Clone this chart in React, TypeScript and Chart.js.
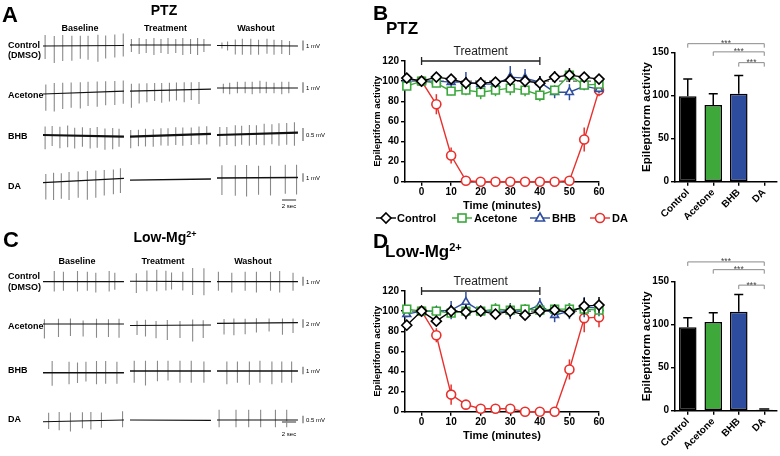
import React, { useEffect, useRef } from "react";
import { Chart, registerables } from "chart.js";
Chart.register(...registerables);

const FONT = '"Liberation Sans", Arial, Helvetica, sans-serif';

// ---------------- Time-course data (panels B and D) ----------------
const timePoints = [-5, 0, 5, 10, 15, 20, 25, 30, 35, 40, 45, 50, 55, 60];
const timeTicks = [0, 10, 20, 30, 40, 50, 60];
const activityTicks = [0, 20, 40, 60, 80, 100, 120];
const treatmentWindow = [0, 40];
const referenceLevel = 100;

const seriesLabels = ["Control", "Acetone", "BHB", "DA"];
const seriesColors = ["#000000", "#3aa83a", "#2f4ea0", "#e8302c"];
const seriesMarkers = ["rectRot", "rect", "triangle", "circle"];

const ptzControl = [103, 100, 104, 102, 98, 98, 99, 101, 100, 98, 104, 106, 104, 102];
const ptzControlErr = [3, 2, 4, 4, 6, 6, 5, 6, 6, 7, 6, 7, 5, 3];
const ptzAcetone = [95, 100, 98, 90, 91, 89, 91, 93, 91, 86, 91, 106, 96, 97];
const ptzAcetoneErr = [3, 2, 4, 4, 5, 7, 6, 7, 6, 6, 5, 4, 4, 4];
const ptzBhb = [102, 100, 100, 99, 99, 97, 97, 104, 103, 99, 89, 89, 95, 92];
const ptzBhbErr = [3, 2, 3, 5, 10, 5, 5, 11, 9, 6, 6, 8, 4, 4];
const ptzDa = [null, 100, 77, 26, 1, 0, 0, 0, 0, 0, 0, 1, 42, 91];
const ptzDaErr = [0, 2, 10, 8, 1, 1, 1, 1, 1, 1, 1, 1, 12, 6];

const lowControl = [86, 100, 90, 100, 99, 100, 97, 100, 96, 100, 101, 99, 105, 106];
const lowControlErr = [4, 2, 4, 6, 7, 5, 3, 6, 4, 6, 4, 5, 8, 8];
const lowAcetone = [102, 100, 100, 98, 100, 100, 102, 101, 102, 101, 102, 102, 102, 101];
const lowAcetoneErr = [3, 2, 3, 4, 5, 5, 6, 6, 5, 6, 5, 6, 6, 5];
const lowBhb = [97, 100, 100, 101, 109, 100, 100, 100, 100, 106, 96, 100, 104, 103];
const lowBhbErr = [3, 2, 3, 9, 10, 5, 7, 8, 6, 7, 7, 8, 10, 8];
const lowDa = [null, 100, 76, 17, 7, 3, 3, 3, 0, 0, 0, 42, 93, 94];
const lowDaErr = [0, 2, 7, 10, 4, 2, 2, 2, 1, 1, 1, 10, 14, 10];

// ---------------- Bar data ----------------
const barCategories = ["Control", "Acetone", "BHB", "DA"];
const barTicks = [0, 50, 100, 150];
const barColors = ["#000000", "#3ea83a", "#2e4c9e", "#ffffff"];
const ptzBarMeans = [99, 89, 102, 0];
const ptzBarErrors = [20, 13, 21, 0];
const lowMgBarMeans = [97, 103, 115, 1];
const lowMgBarErrors = [11, 11, 20, 1];
const ptzSignificance = [[0, 3, 160], [1, 3, 150.5], [2, 3, 138]];
const lowMgSignificance = [[0, 3, 173], [1, 3, 164], [2, 3, 146]];

// ---------------- Recording traces (panels A and C) ----------------
// each spike: [time (s), upward amplitude (mV), downward amplitude (mV)]
const traceColumns = ["Baseline", "Treatment", "Washout"];
const traceDuration = 11.5;

const ptzControlSpikes = [
  [[0.3, 1.1, 1.3], [1.6, 1.0, 1.7], [2.8, 1.1, 1.5], [4.1, 1.0, 1.5], [5.3, 1.0, 1.3], [6.4, 1.0, 1.4], [7.8, 1.1, 1.6], [8.9, 1.0, 1.3], [10.2, 1.1, 1.2], [11.4, 1.2, 1.1]],
  [[0.2, 0.6, 0.7], [1.3, 0.7, 0.9], [2.3, 0.6, 0.8], [3.4, 0.7, 1.0], [4.4, 0.6, 0.8], [5.4, 0.7, 0.9], [6.5, 0.6, 0.8], [7.5, 0.7, 1.0], [8.6, 0.6, 0.9], [9.6, 0.7, 1.0], [10.5, 0.6, 0.7]],
  [[0.7, 0.3, 0.3], [1.5, 0.4, 0.5], [2.6, 0.6, 0.9], [3.6, 0.7, 0.9], [4.8, 0.7, 0.9], [5.9, 0.6, 0.9], [7.1, 0.7, 0.8], [8.1, 0.6, 0.9], [9.2, 0.6, 0.8], [10.3, 0.5, 0.9]],
];
const ptzAcetoneSpikes = [
  [[0.4, 0.9, 1.6], [1.6, 1.0, 1.7], [2.8, 1.0, 1.5], [4.0, 1.0, 1.4], [5.3, 1.0, 1.5], [6.4, 1.0, 1.3], [7.7, 1.0, 1.4], [8.9, 1.0, 1.3], [10.2, 1.0, 1.3], [11.4, 1.0, 1.2]],
  [[0.2, 0.7, 1.6], [1.3, 0.7, 1.2], [2.4, 0.7, 1.1], [3.5, 0.7, 1.0], [4.5, 0.7, 1.2], [5.6, 0.7, 1.1], [6.6, 0.7, 1.0], [7.7, 0.7, 1.2], [8.7, 0.7, 1.0], [9.8, 0.7, 1.4]],
  [[0.9, 0.4, 0.5], [1.8, 0.5, 0.6], [2.9, 0.6, 0.5], [4.0, 0.6, 0.5], [5.0, 0.6, 0.6], [6.1, 0.7, 0.5], [7.0, 0.6, 0.5], [8.1, 0.5, 0.5], [9.2, 0.6, 0.6], [10.2, 0.6, 0.5]],
];
const ptzBhbSpikes = [
  [[0.3, 0.33, 0.55], [1.3, 0.35, 0.42], [2.4, 0.33, 0.5], [3.5, 0.38, 0.45], [4.5, 0.3, 0.5], [5.6, 0.33, 0.42], [6.7, 0.3, 0.48], [7.7, 0.35, 0.45], [8.8, 0.3, 0.52], [9.9, 0.32, 0.5], [10.8, 0.3, 0.4]],
  [[0.1, 0.25, 0.45], [1.2, 0.25, 0.38], [2.2, 0.28, 0.4], [3.3, 0.25, 0.42], [4.4, 0.28, 0.38], [5.4, 0.27, 0.4], [6.5, 0.3, 0.38], [7.5, 0.28, 0.42], [8.7, 0.27, 0.4], [9.8, 0.3, 0.38], [10.9, 0.3, 0.4]],
  [[0.4, 0.3, 0.45], [1.4, 0.3, 0.4], [2.6, 0.35, 0.45], [3.5, 0.33, 0.4], [4.6, 0.35, 0.45], [5.6, 0.33, 0.42], [6.7, 0.38, 0.45], [7.8, 0.35, 0.42], [8.8, 0.38, 0.48], [9.9, 0.38, 0.45], [11.0, 0.4, 0.5]],
];
const ptzDaSpikes = [
  [[0.4, 1.0, 2.0], [1.5, 1.1, 2.1], [2.6, 1.0, 2.0], [3.7, 1.1, 2.2], [5.0, 1.1, 2.0], [6.3, 1.1, 2.3], [7.5, 1.1, 2.1], [8.7, 1.1, 1.9], [10.0, 1.1, 1.8], [11.0, 1.2, 1.7]],
  [],
  [[0.7, 1.5, 2.0], [2.6, 1.5, 2.1], [4.2, 1.5, 2.2], [5.9, 1.4, 2.0], [7.6, 1.4, 2.1], [9.7, 1.5, 1.9], [11.3, 1.5, 2.0]],
];
const lowControlSpikes = [
  [[1.6, 1.2, 1.1], [2.9, 1.1, 1.0], [4.9, 1.2, 1.1], [6.3, 1.1, 1.0], [7.5, 1.0, 1.2], [9.4, 1.2, 1.1], [10.2, 1.0, 0.9]],
  [[0.9, 0.9, 1.3], [2.4, 1.2, 1.1], [3.8, 1.3, 1.1], [5.1, 1.2, 1.0], [5.9, 1.0, 0.9], [7.5, 1.1, 1.0], [8.9, 1.5, 1.5], [10.5, 1.5, 1.5]],
  [[0.2, 1.1, 1.0], [2.1, 1.0, 1.2], [4.0, 1.1, 1.0], [5.6, 1.1, 1.2], [7.6, 1.1, 1.0], [8.9, 1.2, 1.2], [10.8, 1.0, 1.0]],
];
const lowAcetoneSpikes = [
  [[0.2, 1.1, 3.4], [2.2, 1.2, 3.0], [3.9, 1.3, 2.8], [5.7, 0.8, 2.9], [7.6, 1.2, 3.2], [9.3, 1.1, 3.0], [10.8, 1.2, 3.2]],
  [[1.0, 1.1, 2.2], [2.2, 1.3, 2.6], [3.7, 1.0, 3.0], [5.3, 1.2, 3.4], [7.1, 1.0, 3.0], [8.9, 1.3, 3.8], [10.4, 1.1, 3.0]],
  [[1.0, 1.0, 2.6], [2.4, 1.1, 2.8], [4.0, 1.0, 2.6], [5.6, 1.1, 2.2], [7.4, 1.0, 2.0], [9.3, 1.0, 2.8], [10.8, 1.0, 2.4]],
];
const lowBhbSpikes = [
  [[1.3, 1.6, 1.8], [3.7, 1.5, 1.6], [4.9, 1.4, 1.4], [6.1, 1.5, 1.2], [7.6, 1.6, 1.6], [8.9, 1.6, 1.5], [10.5, 1.5, 1.5]],
  [[0.6, 1.4, 1.6], [2.2, 1.4, 2.0], [3.9, 1.4, 1.4], [5.4, 1.4, 1.3], [7.1, 1.4, 1.6], [8.7, 1.4, 1.6], [10.5, 1.3, 1.6]],
  [[1.4, 1.3, 1.8], [2.9, 1.3, 1.6], [4.6, 1.3, 1.9], [6.1, 1.4, 1.6], [7.8, 1.3, 1.8], [9.2, 1.3, 1.6], [10.6, 1.3, 1.6]],
];
const lowDaSpikes = [
  [[0.8, 0.6, 0.5], [2.3, 0.65, 0.6], [3.9, 0.6, 0.7], [5.6, 0.6, 0.5], [6.8, 0.6, 0.6], [8.3, 0.55, 0.5], [11.3, 0.6, 0.5]],
  [],
  [[0.3, 0.7, 0.5], [2.7, 0.7, 0.5], [4.5, 0.7, 0.5], [6.2, 0.7, 0.5], [8.3, 0.7, 0.5], [9.9, 0.7, 0.5]],
];
// baseline level (mV) at start / end of each column
const ptzDrift = [
  [[0, 0.05], [0.1, 0.1], [0.05, 0]],
  [[-0.57, -0.29], [-0.29, -0.1], [0, 0]],
  [[0, -0.06], [-0.06, 0.04], [0, 0.09]],
  [[-0.55, -0.04], [-0.24, -0.12], [0, 0.06]],
];
const lowDrift = [
  [[0, 0], [0.05, 0], [0, 0]],
  [[0, 0], [-0.35, -0.23], [0.16, 0.3]],
  [[-0.23, -0.23], [0, 0], [0, 0]],
  [[-0.12, 0], [0, -0.02], [0, 0]],
];
const ptzRowLabels = [["Control", "(DMSO)"], ["Acetone"], ["BHB"], ["DA"]];
const ptzScaleMv = [1, 1, 0.5, 1];
const lowScaleMv = [1, 2, 1, 0.5];
const timeScaleSec = 2;

// ---------------- layout (pixels) ----------------
const TR_PX_PER_S = 7.04;
const TR_X0 = 43;
const colStartPx = [43, 130, 217];
const scaleBarPx = 303;
const timeBarPx = 282;

function px2s(px: number) {
  return (px - TR_X0) / TR_PX_PER_S;
}

type Spike = number[];

function TracePanel(props: {
  top: number;
  rowsSpikes: Spike[][][];
  drift: number[][][];
  base: number[];
  gain: number[];
  widths: number[];
  mv: number[];
  timeBarY: number;
}) {
  const ref = useRef<HTMLCanvasElement>(null);
  useEffect(() => {
    const cv = ref.current!;
    const { rowsSpikes, drift, base, gain, widths, mv, timeBarY } = props;
    const datasets: any[] = [];
    const spikePts: any[] = [];
    rowsSpikes.forEach((cols, r) => {
      const basePts: any[] = [];
      cols.forEach((spikes, c) => {
        const off = px2s(colStartPx[c]);
        const [d0, d1] = drift[r][c];
        const lvl = (t: number) => d0 + ((d1 - d0) * t) / traceDuration;
        basePts.push({ x: off, y: base[r] - d0 * gain[r] });
        basePts.push({ x: off + traceDuration, y: base[r] - d1 * gain[r] });
        basePts.push({ x: off + traceDuration, y: null });
        spikes.forEach(([t, up, down]) => {
          const l = lvl(t);
          spikePts.push({ x: off + t, y: base[r] - (l + up) * gain[r] });
          spikePts.push({ x: off + t, y: base[r] - (l - down) * gain[r] });
          spikePts.push({ x: off + t, y: null });
        });
      });
      datasets.push({ data: basePts, borderColor: "#111", borderWidth: widths[r], pointRadius: 0, spanGaps: false });
    });
    datasets.push({ data: spikePts, borderColor: "#8a8a8a", borderWidth: 1.1, pointRadius: 0, spanGaps: false });
    const barPts: any[] = [];
    base.forEach((b, r) => {
      const h = mv[r] * gain[r];
      barPts.push({ x: px2s(scaleBarPx), y: b - h / 2 - 0.5 });
      barPts.push({ x: px2s(scaleBarPx), y: b + h / 2 - 0.5 });
      barPts.push({ x: px2s(scaleBarPx), y: null });
    });
    barPts.push({ x: px2s(timeBarPx), y: timeBarY });
    barPts.push({ x: px2s(timeBarPx) + timeScaleSec, y: timeBarY });
    datasets.push({ data: barPts, borderColor: "#777", borderWidth: 1.3, pointRadius: 0, spanGaps: false });

    const chart = new Chart(cv, {
      type: "line",
      data: { datasets },
      options: {
        animation: false,
        responsive: false,
        maintainAspectRatio: false,
        layout: { padding: 0 },
        plugins: { legend: { display: false }, tooltip: { enabled: false } },
        scales: {
          x: { type: "linear", display: false, min: px2s(0), max: px2s(330) },
          y: { type: "linear", display: false, min: 0, max: 228, reverse: true },
        },
      },
    });
    return () => chart.destroy();
  }, []);
  return (
    <canvas
      ref={ref}
      width={330}
      height={228}
      style={{ position: "absolute", left: 0, top: props.top, width: 330, height: 228 }}
    />
  );
}

function TimeCourse(props: { top: number; series: (number | null)[][]; errors: number[][] }) {
  const ref = useRef<HTMLCanvasElement>(null);
  useEffect(() => {
    const cv = ref.current!;
    const datasets: any[] = props.series.map((vals, i) => ({
      label: seriesLabels[i],
      data: timePoints.map((t, j) => ({ x: t, y: vals[j] })),
      errors: props.errors[i],
      borderColor: seriesColors[i],
      backgroundColor: "#ffffff",
      pointBackgroundColor: "#ffffff",
      pointBorderColor: seriesColors[i],
      pointStyle: seriesMarkers[i],
      pointRadius: i === 1 ? 5.5 : i === 0 ? 5 : 4.5,
      pointBorderWidth: 1.6,
      borderWidth: 1.4,
      tension: 0,
      spanGaps: false,
      clip: false,
    }));
    const plugin = {
      id: "tcExtras",
      beforeDatasetsDraw(chart: any) {
        const { ctx, chartArea, scales } = chart;
        const y = scales.y.getPixelForValue(referenceLevel);
        ctx.save();
        ctx.strokeStyle = "#333";
        ctx.lineWidth = 1;
        ctx.setLineDash([4, 3]);
        ctx.beginPath();
        ctx.moveTo(chartArea.left, y);
        ctx.lineTo(chartArea.right, y);
        ctx.stroke();
        ctx.restore();
      },
      beforeDatasetDraw(chart: any, args: any) {
        const ds = chart.data.datasets[args.index];
        const errs = ds.errors;
        if (!errs) return;
        const ys = chart.scales.y;
        const ctx = chart.ctx;
        ctx.save();
        ctx.strokeStyle = ds.borderColor;
        ctx.lineWidth = 1.5;
        args.meta.data.forEach((pt: any, k: number) => {
          const v = ds.data[k].y;
          if (v == null || !errs[k]) return;
          ctx.beginPath();
          ctx.moveTo(pt.x, ys.getPixelForValue(v + errs[k]));
          ctx.lineTo(pt.x, ys.getPixelForValue(Math.max(v - errs[k], 0)));
          ctx.stroke();
        });
        ctx.restore();
      },
      afterDraw(chart: any) {
        const { ctx, scales } = chart;
        const x0 = scales.x.getPixelForValue(treatmentWindow[0]);
        const x1 = scales.x.getPixelForValue(treatmentWindow[1]);
        const y = scales.y.getPixelForValue(120);
        ctx.save();
        ctx.strokeStyle = "#222";
        ctx.lineWidth = 1.3;
        ctx.beginPath();
        ctx.moveTo(x0, y);
        ctx.lineTo(x1, y);
        ctx.moveTo(x0, y - 4);
        ctx.lineTo(x0, y + 4);
        ctx.moveTo(x1, y - 4);
        ctx.lineTo(x1, y + 4);
        ctx.stroke();
        ctx.fillStyle = "#222";
        ctx.font = `12px ${FONT}`;
        ctx.textAlign = "center";
        ctx.textBaseline = "middle";
        ctx.fillText("Treatment", (x0 + x1) / 2, y - 9);
        ctx.restore();
      },
    };
    const tickFont = { family: FONT, size: 10, weight: "bold" as const };
    const chart = new Chart(cv, {
      type: "line",
      data: { datasets },
      plugins: [plugin],
      options: {
        animation: false,
        responsive: false,
        maintainAspectRatio: false,
        layout: { padding: { top: 21, right: 19, left: 0, bottom: 0 } },
        plugins: { legend: { display: false }, tooltip: { enabled: false } },
        scales: {
          x: {
            type: "linear",
            min: -5.6,
            max: 60,
            afterBuildTicks: (s: any) => {
              s.ticks = timeTicks.map((v) => ({ value: v }));
            },
            afterFit: (s: any) => {
              s.height = 33.3;
            },
            grid: { drawOnChartArea: false, drawTicks: true, tickLength: 4, color: "#000", lineWidth: 1.4 },
            border: { color: "#000", width: 1.5 },
            ticks: { font: tickFont, color: "#000", padding: 1, maxRotation: 0 },
            title: {
              display: true,
              text: "Time (minutes)",
              color: "#000",
              font: { family: FONT, size: 11, weight: "bold" },
              padding: { top: 0, bottom: 2 },
            },
          },
          y: {
            type: "linear",
            min: 0,
            max: 120,
            afterBuildTicks: (s: any) => {
              s.ticks = activityTicks.map((v) => ({ value: v }));
            },
            afterFit: (s: any) => {
              s.width = 37;
            },
            grid: { drawOnChartArea: false, drawTicks: true, tickLength: 4, color: "#000", lineWidth: 1.4 },
            border: { color: "#000", width: 1.5 },
            ticks: { font: tickFont, color: "#000", padding: 2 },
            title: {
              display: true,
              text: "Epileptiform activity",
              color: "#000",
              font: { family: FONT, size: 9.5, weight: "bold" },
              padding: { top: 4, bottom: 0 },
            },
          },
        },
      },
    });
    return () => chart.destroy();
  }, []);
  return (
    <canvas
      ref={ref}
      width={250}
      height={175}
      style={{ position: "absolute", left: 368, top: props.top, width: 250, height: 175 }}
    />
  );
}

function BarPanel(props: { top: number; height: number; padTop: number; axisH: number; means: number[]; errors: number[]; sig: number[][] }) {
  const ref = useRef<HTMLCanvasElement>(null);
  useEffect(() => {
    const cv = ref.current!;
    const plugin = {
      id: "barExtras",
      afterDatasetsDraw(chart: any) {
        const { ctx, scales } = chart;
        const meta = chart.getDatasetMeta(0);
        const ys = scales.y;
        ctx.save();
        ctx.strokeStyle = "#000";
        ctx.lineWidth = 1.5;
        meta.data.forEach((bar: any, i: number) => {
          const e = props.errors[i];
          if (!e) return;
          const yb = ys.getPixelForValue(props.means[i]);
          const yt = ys.getPixelForValue(props.means[i] + e);
          const cap = i === 3 ? 5 : 4.5;
          ctx.beginPath();
          ctx.moveTo(bar.x, yb);
          ctx.lineTo(bar.x, yt);
          ctx.moveTo(bar.x - cap, yt);
          ctx.lineTo(bar.x + cap, yt);
          ctx.stroke();
        });
        ctx.strokeStyle = "#8a8a8a";
        ctx.lineWidth = 1;
        ctx.fillStyle = "#444";
        ctx.font = `8.5px ${FONT}`;
        ctx.textAlign = "center";
        ctx.textBaseline = "alphabetic";
        props.sig.forEach(([a, b, level]) => {
          const xa = meta.data[a].x;
          const xb = meta.data[b].x;
          const y = ys.getPixelForValue(level);
          ctx.beginPath();
          ctx.moveTo(xa, y + 4);
          ctx.lineTo(xa, y);
          ctx.lineTo(xb, y);
          ctx.lineTo(xb, y + 4);
          ctx.stroke();
          ctx.fillText("***", (xa + xb) / 2, y + 2.5);
        });
        ctx.restore();
      },
    };
    const tickFont = { family: FONT, size: 10, weight: "bold" as const };
    const chart = new Chart(cv, {
      type: "bar",
      data: {
        labels: barCategories,
        datasets: [
          {
            data: props.means,
            backgroundColor: barColors,
            borderColor: "#000",
            borderWidth: 1.5,
            borderSkipped: false,
            barPercentage: 0.69,
            categoryPercentage: 1,
          },
        ],
      },
      plugins: [plugin],
      options: {
        animation: false,
        responsive: false,
        maintainAspectRatio: false,
        layout: { padding: { top: props.padTop, right: 3, left: 0, bottom: 0 } },
        plugins: { legend: { display: false }, tooltip: { enabled: false } },
        scales: {
          x: {
            afterFit: (s: any) => {
              s.height = props.axisH;
            },
            grid: { offset: false, drawOnChartArea: false, drawTicks: true, tickLength: 4, color: "#000", lineWidth: 1.4 },
            border: { color: "#000", width: 1.5 },
            ticks: { font: { family: FONT, size: 10, weight: "bold" }, color: "#000", minRotation: 45, maxRotation: 45, autoSkip: false, padding: 1 },
          },
          y: {
            min: 0,
            max: 150,
            afterBuildTicks: (s: any) => {
              s.ticks = barTicks.map((v) => ({ value: v }));
            },
            afterFit: (s: any) => {
              s.width = 45;
            },
            grid: { drawOnChartArea: false, drawTicks: true, tickLength: 4, color: "#000", lineWidth: 1.4 },
            border: { color: "#000", width: 1.5 },
            ticks: { font: tickFont, color: "#000", padding: 2 },
            title: {
              display: true,
              text: "Epileptiform activity",
              color: "#000",
              font: { family: FONT, size: 11.5, weight: "bold" },
              padding: { top: 10, bottom: 0 },
            },
          },
        },
      },
    });
    return () => chart.destroy();
  }, []);
  return (
    <canvas
      ref={ref}
      width={150}
      height={props.height}
      style={{ position: "absolute", left: 630, top: props.top, width: 150, height: props.height }}
    />
  );
}

function T(props: { x: number; y: number; size: number; bold?: boolean; align?: "left" | "center"; children: any; color?: string }) {
  const tx = props.align === "left" ? "0" : "-50%";
  return (
    <div
      style={{
        position: "absolute",
        left: props.x,
        top: props.y,
        transform: `translate(${tx}, -50%)`,
        fontSize: props.size,
        fontWeight: props.bold ? "bold" : "normal",
        lineHeight: 1,
        whiteSpace: "nowrap",
        color: props.color || "#000",
      }}
    >
      {props.children}
    </div>
  );
}

function LegendMarker(props: { i: number; cx: number }) {
  const c = seriesColors[props.i];
  const s = 5;
  let shape: any = null;
  if (props.i === 0) shape = <polygon points={`10,${9 - s} ${10 + s},9 10,${9 + s} ${10 - s},9`} fill="#fff" stroke={c} strokeWidth={1.6} />;
  if (props.i === 1) shape = <rect x={10 - 4} y={9 - 4} width={8} height={8} fill="#fff" stroke={c} strokeWidth={1.6} />;
  if (props.i === 2) shape = <polygon points={`10,${9 - 5} ${14.5},${12} ${5.5},${12}`} fill="#fff" stroke={c} strokeWidth={1.6} />;
  if (props.i === 3) shape = <circle cx={10} cy={9} r={4.5} fill="#fff" stroke={c} strokeWidth={1.6} />;
  return (
    <svg width={20} height={18} style={{ position: "absolute", left: props.cx - 10, top: 218 - 9 }}>
      <line x1={0} y1={9} x2={20} y2={9} stroke={c} strokeWidth={1.4} />
      {shape}
    </svg>
  );
}

const legendMarkerX = [386, 462, 540, 600];
const legendTextX = [397, 474, 552, 612];

export default function App() {
  useEffect(() => {
    document.body.style.margin = "0";
  }, []);
  const mvLabel = (v: number) => `${v} mV`;
  const ptzBase = [46, 88, 135, 178];
  const lowBase = [53.7, 96, 143, 192];
  return (
    <div style={{ position: "relative", width: 780, height: 456, background: "#fff", overflow: "hidden", fontFamily: FONT }}>
      <TracePanel
        top={0}
        rowsSpikes={[ptzControlSpikes, ptzAcetoneSpikes, ptzBhbSpikes, ptzDaSpikes]}
        drift={ptzDrift}
        base={ptzBase}
        gain={[10, 10.5, 26, 8.5]}
        widths={[1.2, 1.2, 2.2, 1.3]}
        mv={ptzScaleMv}
        timeBarY={200}
      />
      <TracePanel
        top={228}
        rowsSpikes={[lowControlSpikes, lowAcetoneSpikes, lowBhbSpikes, lowDaSpikes]}
        drift={lowDrift}
        base={lowBase}
        gain={[9, 4.3, 7.3, 14.6]}
        widths={[1.2, 1.2, 1.6, 1.2]}
        mv={lowScaleMv}
        timeBarY={194}
      />
      {/* Panel A labels */}
      <T x={2} y={15} size={22} bold align="left">A</T>
      <T x={164} y={10} size={14} bold>PTZ</T>
      {traceColumns.map((c, i) => (
        <T key={"ah" + i} x={[80, 165.5, 256][i]} y={27.5} size={9} bold>{c}</T>
      ))}
      <T x={8} y={45} size={9} bold align="left">{ptzRowLabels[0][0]}</T>
      <T x={8} y={54.5} size={9} bold align="left">{ptzRowLabels[0][1]}</T>
      <T x={8} y={94.5} size={9} bold align="left">{ptzRowLabels[1][0]}</T>
      <T x={8} y={136} size={9} bold align="left">{ptzRowLabels[2][0]}</T>
      <T x={8} y={186} size={9} bold align="left">{ptzRowLabels[3][0]}</T>
      {ptzScaleMv.map((v, i) => (
        <T key={"am" + i} x={306} y={ptzBase[i]} size={6} align="left">{mvLabel(v)}</T>
      ))}
      <T x={289} y={206} size={6}>{timeScaleSec} sec</T>

      {/* Panel C labels */}
      <T x={3} y={240} size={22} bold align="left">C</T>
      <T x={165} y={237} size={14} bold>
        Low-Mg<sup style={{ fontSize: 9 }}>2+</sup>
      </T>
      {traceColumns.map((c, i) => (
        <T key={"ch" + i} x={[77, 163, 253][i]} y={260.5} size={9} bold>{c}</T>
      ))}
      <T x={8} y={276} size={9} bold align="left">{ptzRowLabels[0][0]}</T>
      <T x={8} y={286.5} size={9} bold align="left">{ptzRowLabels[0][1]}</T>
      <T x={8} y={326} size={9} bold align="left">{ptzRowLabels[1][0]}</T>
      <T x={8} y={370} size={9} bold align="left">{ptzRowLabels[2][0]}</T>
      <T x={8} y={418.5} size={9} bold align="left">{ptzRowLabels[3][0]}</T>
      {lowScaleMv.map((v, i) => (
        <T key={"cm" + i} x={306} y={228 + lowBase[i]} size={6} align="left">{mvLabel(v)}</T>
      ))}
      <T x={289} y={434} size={6}>{timeScaleSec} sec</T>

      {/* Panel B / D */}
      <T x={373} y={12} size={21} bold align="left">B</T>
      <T x={386} y={27.5} size={17} bold align="left">PTZ</T>
      <T x={373} y={240} size={21} bold align="left">D</T>
      <T x={385} y={251} size={17} bold align="left">
        Low-Mg<sup style={{ fontSize: 11 }}>2+</sup>
      </T>
      <TimeCourse
        top={40}
        series={[ptzControl, ptzAcetone, ptzBhb, ptzDa]}
        errors={[ptzControlErr, ptzAcetoneErr, ptzBhbErr, ptzDaErr]}
      />
      <TimeCourse
        top={270}
        series={[lowControl, lowAcetone, lowBhb, lowDa]}
        errors={[lowControlErr, lowAcetoneErr, lowBhbErr, lowDaErr]}
      />
      {seriesLabels.map((l, i) => (
        <React.Fragment key={"lg" + i}>
          <LegendMarker i={i} cx={legendMarkerX[i]} />
          <T x={legendTextX[i]} y={218} size={11} bold align="left">{l}</T>
        </React.Fragment>
      ))}
      <BarPanel top={20} height={200} padTop={32.3} axisH={38.3} means={ptzBarMeans} errors={ptzBarErrors} sig={ptzSignificance} />
      <BarPanel top={240} height={216} padTop={41.7} axisH={45.3} means={lowMgBarMeans} errors={lowMgBarErrors} sig={lowMgSignificance} />
    </div>
  );
}
